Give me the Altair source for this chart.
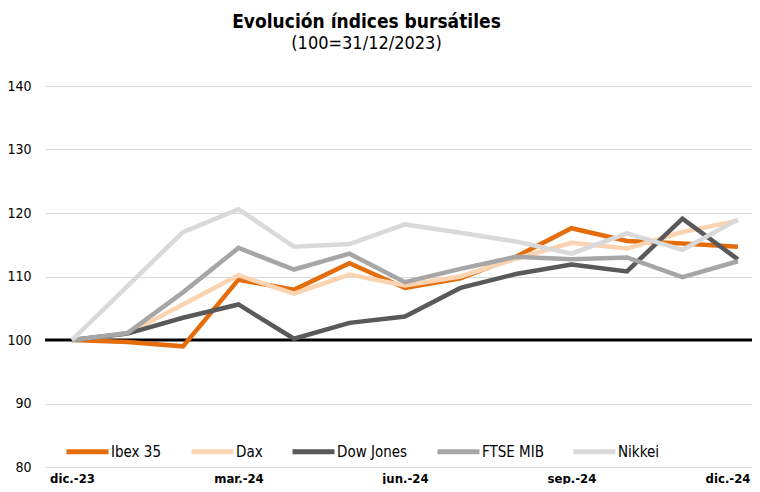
import altair as alt
import pandas as pd

months = ["dic.-23", "ene.-24", "feb.-24", "mar.-24", "abr.-24", "may.-24", "jun.-24",
          "jul.-24", "ago.-24", "sep.-24", "oct.-24", "nov.-24", "dic.-24"]
series_names = ["Ibex 35", "Dax", "Dow Jones", "FTSE MIB", "Nikkei"]
colors = ["#E46C0A", "#FAD3B0", "#595959", "#A6A6A6", "#D9D9D9"]

ibex = [100.0, 99.7, 99.0, 109.5, 107.9, 112.1, 108.2, 109.7, 113.1, 117.6, 115.6, 115.2, 114.7]
dax = [100.0, 101.0, 105.6, 110.2, 107.3, 110.3, 108.6, 110.0, 112.8, 115.3, 114.4, 117.0, 118.8]
dow = [100.0, 101.0, 103.5, 105.6, 100.2, 102.7, 103.7, 108.2, 110.4, 111.9, 110.8, 119.1, 112.7]
ftse = [100.0, 101.1, 107.5, 114.5, 111.1, 113.6, 109.1, 111.2, 113.1, 112.7, 113.0, 109.9, 112.4]
nikkei = [100.0, 108.5, 117.0, 120.6, 114.7, 115.1, 118.2, 116.9, 115.5, 113.6, 116.8, 114.2, 119.0]

base_value = 100
y_ticks = [80, 90, 100, 110, 120, 130, 140]
x_label_idx = [0, 3, 6, 9, 12]

all_series = [ibex, dax, dow, ftse, nikkei]
rows = []
for name, vals in zip(series_names, all_series):
    for i, v in enumerate(vals):
        rows.append({"idx": i, "mes": months[i], "serie": name, "valor": v})
df = pd.DataFrame(rows)

label_array = "[" + ",".join("'" + m + "'" for m in months) + "]"
FONT = "DejaVu Sans Condensed, Liberation Sans, sans-serif"

x_scale = alt.Scale(domain=[-0.486, 12.253], nice=False, zero=False)
y_scale = alt.Scale(domain=[80, 140], nice=False, zero=False)

lines = alt.Chart(df).mark_line(strokeWidth=4.5, clip=True).encode(
    x=alt.X("idx:Q", scale=x_scale,
            axis=alt.Axis(values=x_label_idx, labelExpr=label_array + "[datum.value]",
                          title=None, grid=False, domain=False, ticks=False,
                          labelFont=FONT, labelFontSize=13, labelFontWeight="bold",
                          labelColor="#000000", labelPadding=5, labelOverlap=False,
                          labelBound=False, labelFlush=20, labelFlushOffset=12)),
    y=alt.Y("valor:Q", scale=y_scale,
            axis=alt.Axis(values=y_ticks, title=None, domain=False, ticks=False,
                          gridColor="#D9D9D9", gridWidth=1,
                          labelFont=FONT, labelFontSize=14, labelColor="#000000",
                          labelPadding=14)),
    color=alt.Color("serie:N", scale=alt.Scale(domain=series_names, range=colors),
                    sort=series_names,
                    legend=alt.Legend(orient="none", legendX=19, legendY=342,
                                      direction="horizontal", title=None,
                                      symbolType="stroke", symbolSize=1764,
                                      symbolStrokeWidth=5, labelFont=FONT,
                                      labelFontSize=15, labelColor="#000000",
                                      labelOffset=0, columnPadding=19, padding=0)),
    order=alt.Order("idx:Q"),
)

baseline = alt.Chart(pd.DataFrame({"v": [base_value]})).mark_rule(
    color="#000000", strokeWidth=3
).encode(y=alt.Y("v:Q", scale=y_scale))

chart = alt.layer(baseline, lines).properties(
    width=707, height=381,
    autosize=alt.AutoSizeParams(type="none"),
    padding={"left": 37, "top": 78, "right": 0, "bottom": 17},
    title=alt.TitleParams(
        text="Evolución índices bursátiles",
        subtitle="(100=31/12/2023)",
        font=FONT, fontSize=19, fontWeight="bold", color="#000000",
        subtitleFont=FONT, subtitleFontSize=18, subtitleColor="#000000",
        anchor="middle", offset=26, subtitlePadding=3, dx=-32,
    ),
).configure_view(stroke=None)

chart.save("out.html", embed_options={"renderer": "svg", "actions": False})
